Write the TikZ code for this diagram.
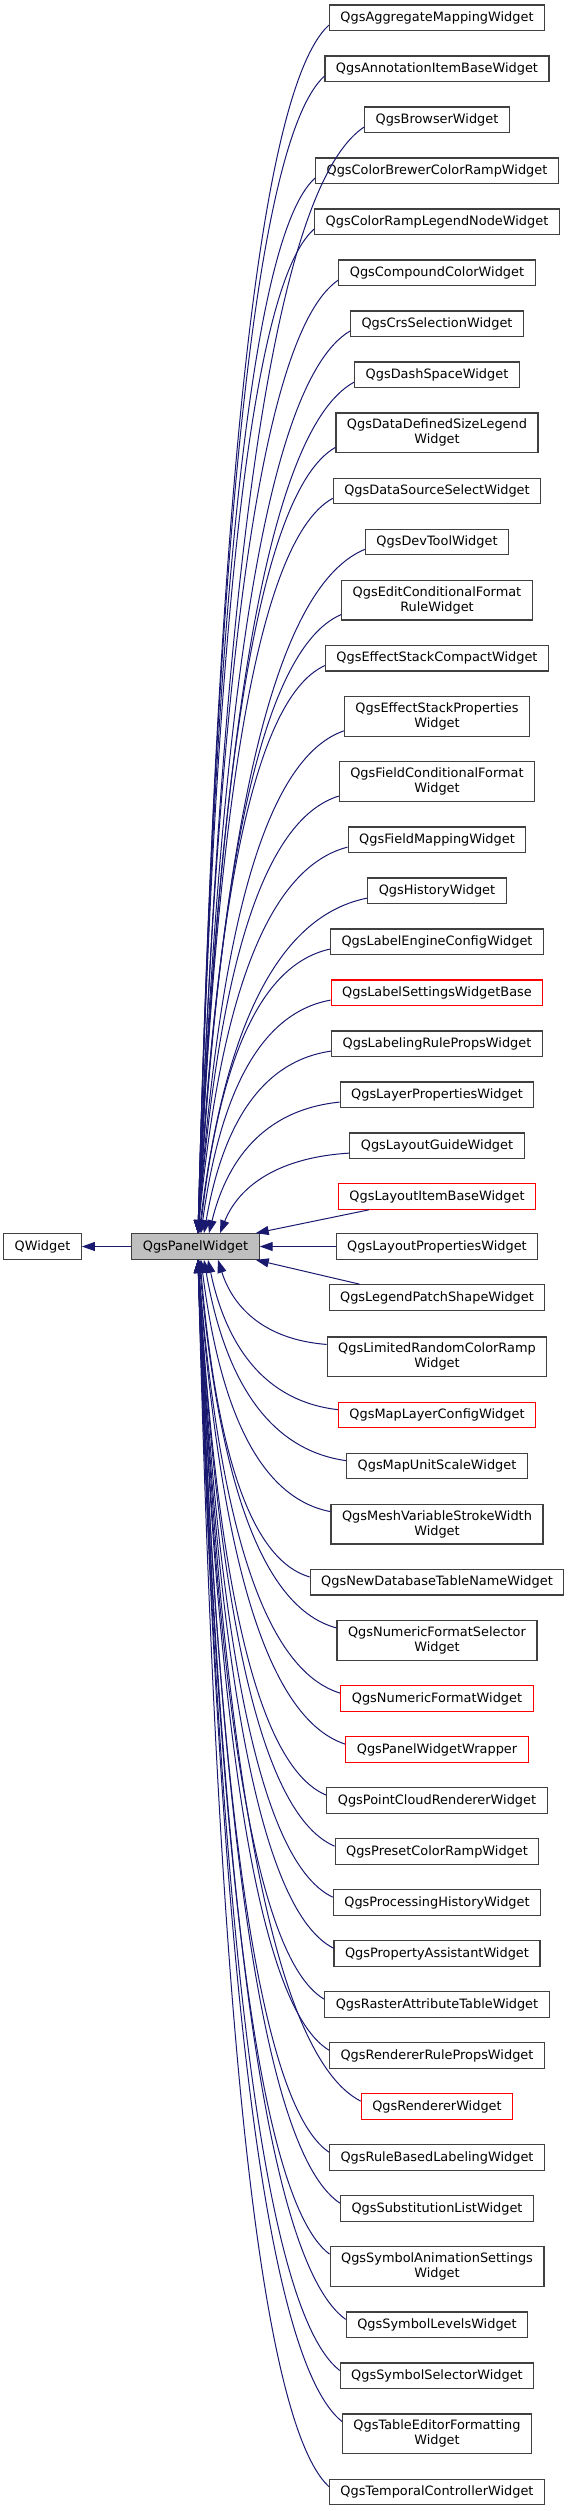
\documentclass[tikz,border=0pt]{standalone}
\usepackage{fontspec}
\setmainfont{DejaVu Sans}
\usetikzlibrary{arrows.meta,calc}
\definecolor{navy}{HTML}{191970}
\definecolor{bord}{HTML}{404040}
\definecolor{panelfill}{HTML}{BFBFBF}
\tikzset{
  cls/.style={draw=bord, line width=1.2pt, fill=white, inner xsep=11pt, inner ysep=2pt,
    minimum height=25.5pt, align=center, font=\fontsize{12.9}{15}\selectfont, text=black},
  dbl/.style={minimum height=39.75pt},
  redbox/.style={draw=red},
  inh/.style={draw=navy, line width=1pt, -{Triangle[length=13pt,width=9pt]}},
}
\newcommand\edU[2]{%
  \draw[inh] let \p1=($(#1.south west)+(0,-6)$), \p2=($(panel.north)+(#2-195.5,0)$) in
    (\p1) .. controls (\x1-0.6*\x1+0.6*\x2, \y1+0.06*\y2-0.06*\y1)
          and (\x2+0.13*\x1-0.13*\x2, \y2+0.53*\y1-0.53*\y2) .. (\p2);}
\newcommand\edD[2]{%
  \draw[inh] let \p1=($(#1.north west)+(0,8)$), \p2=($(panel.south)+(#2-195.5,0)$) in
    (\p1) .. controls (\x1-0.6*\x1+0.6*\x2, \y1+0.06*\y2-0.06*\y1)
          and (\x2+0.13*\x1-0.13*\x2, \y2+0.53*\y1-0.53*\y2) .. (\p2);}
\begin{document}
\begin{tikzpicture}[x=1pt,y=-1pt]
\useasboundingbox (0,0) rectangle (571,2511);
\node[cls] (qw) at (42.5,1246.5) {QWidget};
\node[cls, fill=panelfill] (panel) at (195.5,1246.5) {QgsPanelWidget};

\node[cls] (n1) at (437,17.75) {QgsAggregateMappingWidget};
\node[cls] (n2) at (437,68.75) {QgsAnnotationItemBaseWidget};
\node[cls] (n3) at (437,119.75) {QgsBrowserWidget};
\node[cls] (n4) at (437,170.75) {QgsColorBrewerColorRampWidget};
\node[cls] (n5) at (437,221.75) {QgsColorRampLegendNodeWidget};
\node[cls] (n6) at (437,272.75) {QgsCompoundColorWidget};
\node[cls] (n7) at (437,323.75) {QgsCrsSelectionWidget};
\node[cls] (n8) at (437,374.75) {QgsDashSpaceWidget};
\node[cls,dbl] (n9) at (437,432.9) {QgsDataDefinedSizeLegend\\Widget};
\node[cls] (n10) at (437,491) {QgsDataSourceSelectWidget};
\node[cls] (n11) at (437,542) {QgsDevToolWidget};
\node[cls,dbl] (n12) at (437,600.1) {QgsEditConditionalFormat\\RuleWidget};
\node[cls] (n13) at (437,658.25) {QgsEffectStackCompactWidget};
\node[cls,dbl] (n14) at (437,716.4) {QgsEffectStackProperties\\Widget};
\node[cls,dbl] (n15) at (437,781.6) {QgsFieldConditionalFormat\\Widget};
\node[cls] (n16) at (437,839.75) {QgsFieldMappingWidget};
\node[cls] (n17) at (437,890.75) {QgsHistoryWidget};
\node[cls] (n18) at (437,941.75) {QgsLabelEngineConfigWidget};
\node[cls,redbox] (n19) at (437,992.75) {QgsLabelSettingsWidgetBase};
\node[cls] (n20) at (437,1043.75) {QgsLabelingRulePropsWidget};
\node[cls] (n21) at (437,1094.75) {QgsLayerPropertiesWidget};
\node[cls] (n22) at (437,1145.75) {QgsLayoutGuideWidget};
\node[cls,redbox] (n23) at (437,1196.5) {QgsLayoutItemBaseWidget};
\node[cls] (n24) at (437,1246.5) {QgsLayoutPropertiesWidget};
\node[cls] (n25) at (437,1297.5) {QgsLegendPatchShapeWidget};
\node[cls,dbl] (n26) at (437,1356.9) {QgsLimitedRandomColorRamp\\Widget};
\node[cls,redbox] (n27) at (437,1415) {QgsMapLayerConfigWidget};
\node[cls] (n28) at (437,1466) {QgsMapUnitScaleWidget};
\node[cls,dbl] (n29) at (437,1524.1) {QgsMeshVariableStrokeWidth\\Widget};
\node[cls] (n30) at (437,1582.25) {QgsNewDatabaseTableNameWidget};
\node[cls,dbl] (n31) at (437,1640.4) {QgsNumericFormatSelector\\Widget};
\node[cls,redbox] (n32) at (437,1698.5) {QgsNumericFormatWidget};
\node[cls,redbox] (n33) at (437,1749.5) {QgsPanelWidgetWrapper};
\node[cls] (n34) at (437,1800.5) {QgsPointCloudRendererWidget};
\node[cls] (n35) at (437,1851.5) {QgsPresetColorRampWidget};
\node[cls] (n36) at (437,1902.5) {QgsProcessingHistoryWidget};
\node[cls] (n37) at (437,1953.5) {QgsPropertyAssistantWidget};
\node[cls] (n38) at (437,2004.5) {QgsRasterAttributeTableWidget};
\node[cls] (n39) at (437,2055.5) {QgsRendererRulePropsWidget};
\node[cls,redbox] (n40) at (437,2106.5) {QgsRendererWidget};
\node[cls] (n41) at (437,2157.5) {QgsRuleBasedLabelingWidget};
\node[cls] (n42) at (437,2208.5) {QgsSubstitutionListWidget};
\node[cls,dbl] (n43) at (437,2266.6) {QgsSymbolAnimationSettings\\Widget};
\node[cls] (n44) at (437,2324.75) {QgsSymbolLevelsWidget};
\node[cls] (n45) at (437,2375.75) {QgsSymbolSelectorWidget};
\node[cls,dbl] (n46) at (437,2433.9) {QgsTableEditorFormatting\\Widget};
\node[cls] (n47) at (437,2492) {QgsTemporalControllerWidget};

\draw[inh] (panel.west) -- (qw.east);
\draw[inh] (n24.west) -- (panel.east);
\draw[inh] ($(n23.south west)+(31,0)$) -- ($(panel.north east)+(-4,0)$);
\draw[inh] ($(n25.north west)+(31,0)$) -- ($(panel.south east)+(-4,0)$);

\edU{n22}{220}
\edU{n21}{209}
\edU{n20}{204}
\edU{n19}{201}
\edU{n18}{200}
\edU{n17}{199}
\foreach \i in {1,...,16}{\edU{n\i}{198}}

\edD{n26}{218}
\edD{n27}{208}
\edD{n28}{204}
\edD{n29}{201}
\edD{n30}{200}
\edD{n31}{199}
\foreach \i in {32,...,47}{\edD{n\i}{198}}
\end{tikzpicture}
\end{document}
